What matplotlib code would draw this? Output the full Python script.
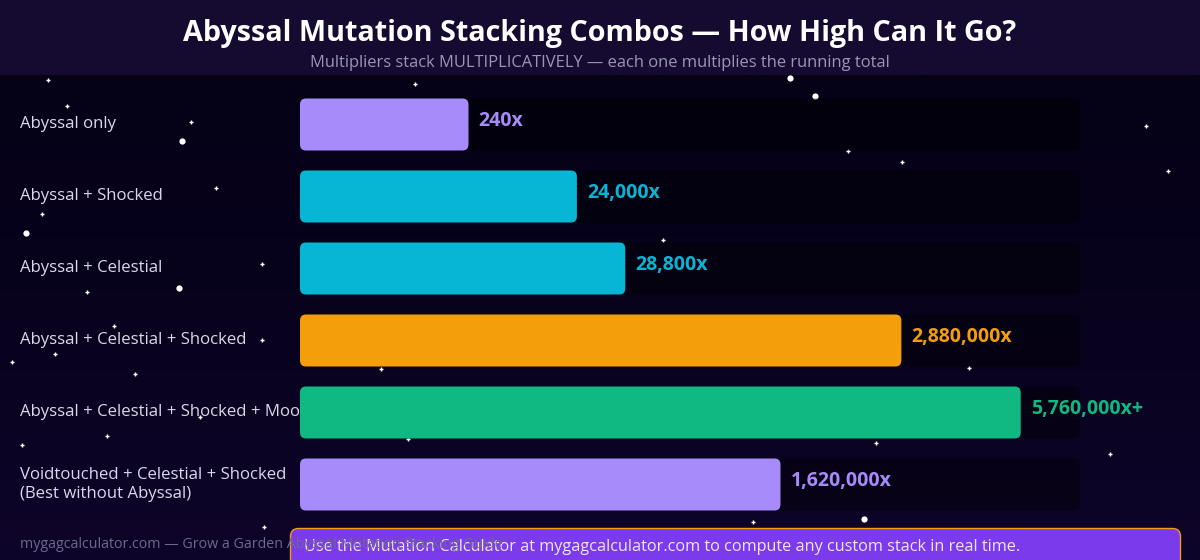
import matplotlib
matplotlib.use("Agg")
import matplotlib.pyplot as plt
import numpy as np
from matplotlib.patches import FancyBboxPatch, Rectangle
from matplotlib.colors import LinearSegmentedColormap

# ---- data ----
categories = [
    "Abyssal only",
    "Abyssal + Shocked",
    "Abyssal + Celestial",
    "Abyssal + Celestial + Shocked",
    "Abyssal + Celestial + Shocked + Moonlit",
    "Voidtouched + Celestial + Shocked\n(Best without Abyssal)",
]
value_labels = ["240x", "24,000x", "28,800x", "2,880,000x", "5,760,000x+", "1,620,000x"]
bar_pct = [21.6, 35.5, 41.7, 77.1, 92.4, 61.6]  # bar length as % of track
bar_colors = ["#a78bfa", "#06b6d4", "#06b6d4", "#f59e0b", "#10b981", "#a78bfa"]

title = "Abyssal Mutation Stacking Combos \u2014 How High Can It Go?"
subtitle = "Multipliers stack MULTIPLICATIVELY \u2014 each one multiplies the running total"
footer = "mygagcalculator.com \u2014 Grow a Garden Abyssal Mutation Stacking Guide"
cta = "Use the Mutation Calculator at mygagcalculator.com to compute any custom stack in real time."

# decorative stars (x px, y px)
stars_small = [(48, 80), (67, 106), (191, 122), (415, 84), (1146, 126), (1168, 171),
               (902, 162), (216, 188), (42, 214), (262, 264), (87, 292), (114, 326),
               (55, 354), (12, 362), (262, 340), (135, 374), (381, 369), (969, 368),
               (107, 436), (408, 439), (876, 443), (1110, 454), (22, 445), (264, 527),
               (753, 522), (663, 240), (848, 151), (200, 417)]
stars_big = [(182, 141), (26, 233), (179, 288), (815, 96), (790, 78), (864, 519)]

W, H = 1200, 560
FONT = ["Open Sans", "DejaVu Sans"]
plt.rcParams["font.family"] = FONT

fig = plt.figure(figsize=(W / 100, H / 100), dpi=100)

# background axes in pixel coordinates
bg = fig.add_axes([0, 0, 1, 1])
bg.set_xlim(0, W)
bg.set_ylim(H, 0)
bg.axis("off")
grad = np.linspace(0, 1, 256).reshape(-1, 1)
cmap = LinearSegmentedColormap.from_list("bgc", ["#050116", "#07021b", "#0a0321", "#0e052a"])
bg.imshow(grad, extent=[0, W, H, 75], aspect="auto", cmap=cmap, zorder=0)
bg.add_patch(Rectangle((0, 0), W, 75, facecolor="#150a30", edgecolor="none", zorder=1))

for (x, y) in stars_small:
    bg.plot([x], [y], marker="+", ms=3.2, mew=1.0, color="white", zorder=2)
for (x, y) in stars_big:
    bg.plot([x], [y], marker="o", ms=4.5, mew=0, color="white", zorder=2)

bg.text(600, 34, title, ha="center", va="center", color="white",
        fontsize=20.7, fontweight="bold", zorder=3)
bg.text(600, 63, subtitle, ha="center", va="center", color="#9c96b4",
        fontsize=11.9, zorder=3)

row_y = [124.5 + 72 * i for i in range(len(categories))]
for lab, y in zip(categories, row_y):
    bg.text(20, y, lab, ha="left", va="center", color="#dcd6ea", fontsize=12.1,
            linespacing=1.2, zorder=3)

# bar axes
ax = fig.add_axes([300 / W, 1 - 520.5 / H, 780 / W, 432 / H])
ax.set_xlim(0, 100)
ax.set_ylim(len(categories) - 0.5, -0.5)
ax.axis("off")
ax.patch.set_alpha(0)

ypos = np.arange(len(categories))
bh = 52 / 72
px_x = 100 / 780  # x units per pixel
px_y = 1 / 72      # y units per pixel
r = 6 * px_x
aspect = px_y / px_x

tracks = ax.barh(ypos, [100] * len(categories), height=bh, color="none")
bars = ax.barh(ypos, bar_pct, height=bh, color=bar_colors)
for group, z in [(tracks, 1), (bars, 2)]:
    for i, rect in enumerate(group):
        x0, y0 = rect.get_x(), rect.get_y()
        w, h = rect.get_width(), rect.get_height()
        rect.set_visible(False)
        face = (0, 0, 0, 0.4) if group is tracks else bar_colors[i]
        p = FancyBboxPatch((x0, y0), w, h,
                           boxstyle=f"round,pad=0,rounding_size={r}",
                           mutation_aspect=aspect, facecolor=face,
                           edgecolor="none", zorder=z)
        ax.add_patch(p)

for i, (v, c) in enumerate(zip(bar_pct, bar_colors)):
    ax.text(v + 10 * px_x, i - 0.05, value_labels[i], ha="left", va="center",
            color=c, fontsize=14, fontweight="bold", clip_on=False, zorder=3)

# CTA box and footer
ov = fig.add_axes([0, 0, 1, 1])
ov.set_xlim(0, W)
ov.set_ylim(H, 0)
ov.axis("off")
ov.patch.set_alpha(0)
ov.add_patch(FancyBboxPatch((290.5, 528.5), 890, 50,
                            boxstyle="round,pad=0,rounding_size=8",
                            facecolor="#7c3aed", edgecolor="#f59e0b", lw=1.0, zorder=1))
ov.text(304, 547, cta, ha="left", va="center", color="#ece6ff", fontsize=11.7, zorder=2)
ov.text(20, 544, footer, ha="left", va="center", color="#6f6890", fontsize=10.3, zorder=3)

fig.savefig("out.png", dpi=100, facecolor="#07021a")
